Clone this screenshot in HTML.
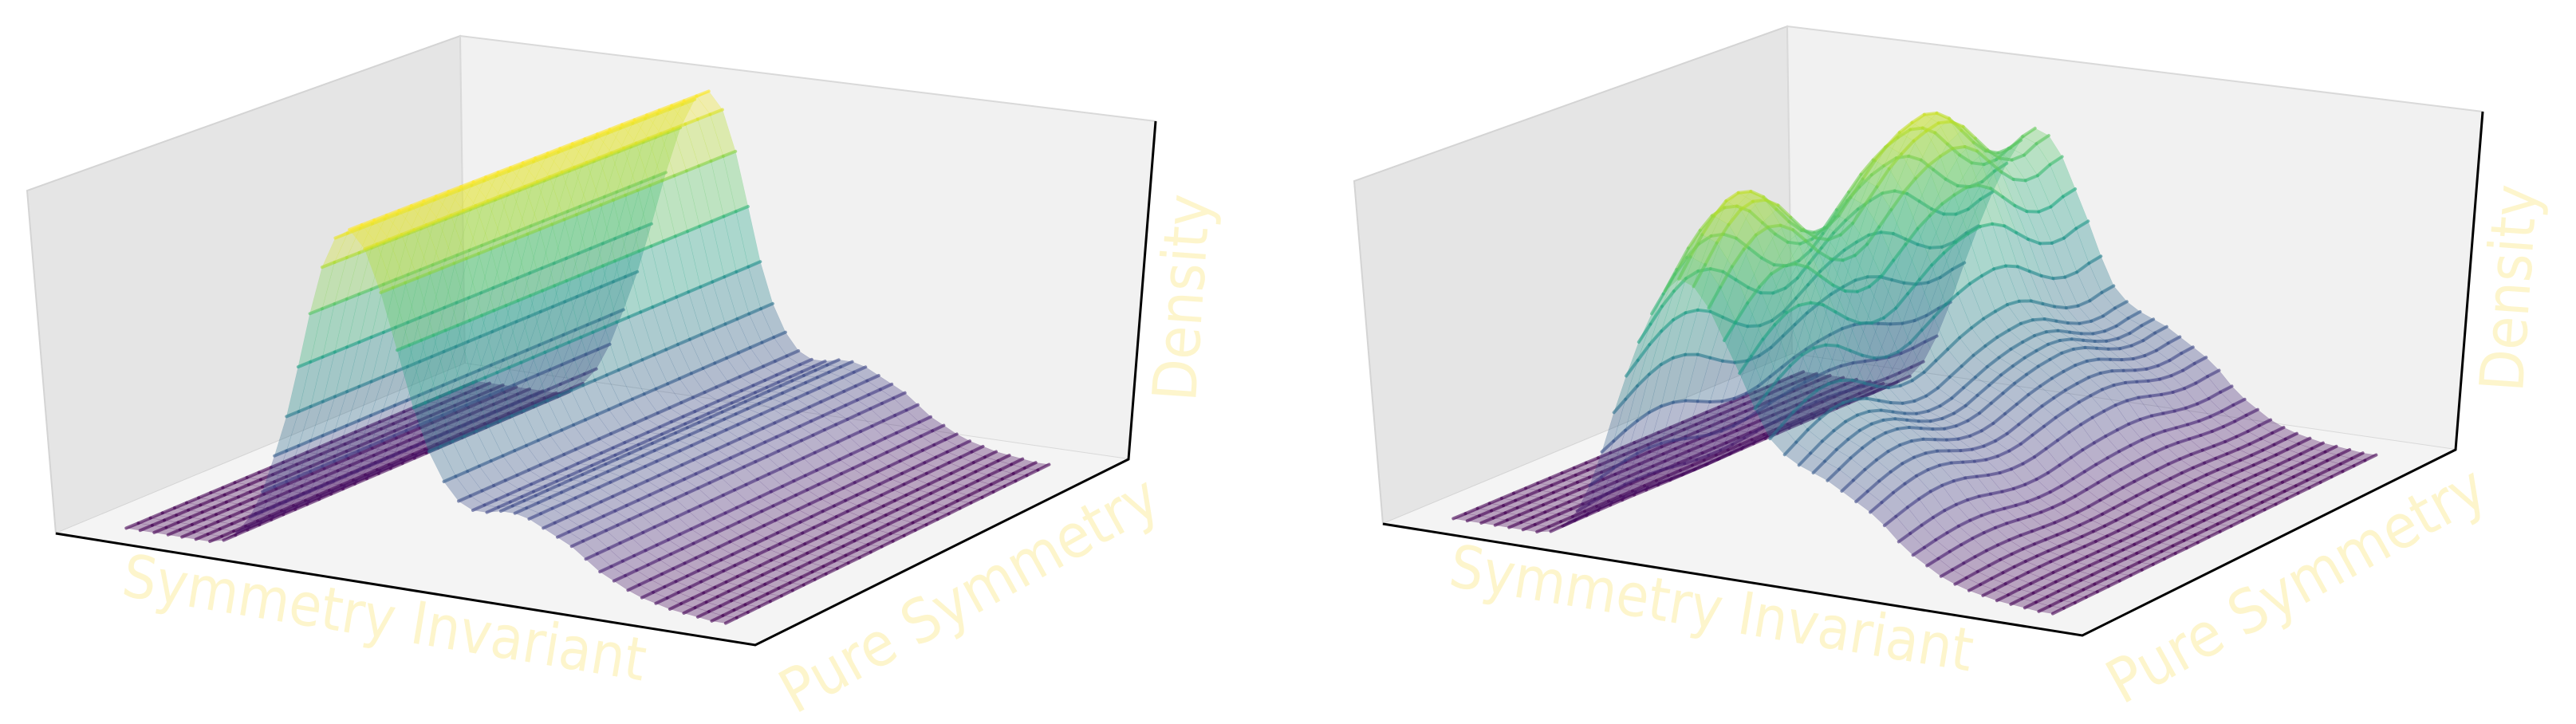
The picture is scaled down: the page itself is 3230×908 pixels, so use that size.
<!DOCTYPE html>
<html><head><meta charset="utf-8"><style>
html,body{margin:0;padding:0;background:#fff;width:3230px;height:908px;overflow:hidden}
svg{display:block}
text{font-family:"DejaVu Sans","Liberation Sans",sans-serif;fill:#fdf5cc}
</style></head><body>
<svg id="chart" width="3230" height="908" viewBox="0 0 3230 908" xmlns="http://www.w3.org/2000/svg"></svg>
<script>
// ---- data ----
const uStart = 0.06, uStep = 0.02;
const leftProfile = [0,0,0,0,0,0,0,0.01,0.04,0.09,0.17,0.28,0.40,0.55,0.71,0.85,0.94,0.97,0.92,0.80,0.64,0.48,0.36,0.28,0.23,0.21,0.21,0.22,0.22,0.21,0.19,0.17,0.15,0.12,0.09,0.07,0.05,0.035,0.025,0.015,0.01,0.005,0,0];
const rightProfile = [0,0,0,0,0,0,0,0.01,0.04,0.10,0.20,0.33,0.48,0.62,0.75,0.86,0.95,1.0,0.98,0.91,0.80,0.69,0.57,0.47,0.42,0.39,0.37,0.35,0.32,0.29,0.26,0.22,0.17,0.13,0.10,0.07,0.05,0.035,0.025,0.015,0.01,0.005,0,0];
const rightModulation = [0.80,0.85,0.90,0.94,0.97,0.98,0.97,0.94,0.89,0.84,0.80,0.78,0.78,0.80,0.84,0.88,0.92,0.95,0.975,0.99,1.0,0.99,0.96,0.91,0.86,0.82,0.80,0.80,0.82,0.83];
const leftModulation = [1,1,1,1,1,1,1,1,1,1,1,1,1,1,1,1,1,1,1,1,1,1,1,1,1,1,1,1,1,1];
const vStart = 0.07, vEnd = 0.93;

const NS = "http://www.w3.org/2000/svg";
const svg = document.getElementById('chart');
const stops = ["#440154","#482475","#414487","#355f8d","#2a788e","#21918c","#22a884","#44bf70","#7ad151","#bddf26","#fde725"];
function hex(h){return [parseInt(h.substr(1,2),16),parseInt(h.substr(3,2),16),parseInt(h.substr(5,2),16)];}
function viridis(t){t=Math.max(0,Math.min(1,t));const f=t*10,i=Math.min(9,Math.floor(f)),r=f-i;
 const a=hex(stops[i]),b=hex(stops[i+1]);return `rgb(${a.map((c,k)=>Math.round(c+(b[k]-c)*r)).join(',')})`;}

const F={A:[70,669],B:[947,809],C:[1415,576],D:[583,456]};
const Dz={A:[-36,-430],B:[4,-445],C:[34,-424],D:[-6,-411]};
function bil(P,u,v){return [0,1].map(k=>P.A[k]*(1-u)*(1-v)+P.B[k]*u*(1-v)+P.D[k]*(1-u)*v+P.C[k]*u*v);}

function el(tag,attrs,parent){const e=document.createElementNS(NS,tag);for(const k in attrs)e.setAttribute(k,attrs[k]);(parent||svg).appendChild(e);return e;}

function drawPanel(ox,oy,profile,mod,cscale,name){
 const g=el('g',{transform:`translate(${ox},${oy})`});
 
 
 const P=(u,v,z)=>{const f=bil(F,u,v),d=bil(Dz,u,v);return [f[0]+z*d[0],f[1]+z*d[1]];};
 const pts=a=>a.map(p=>p[0].toFixed(1)+','+p[1].toFixed(1)).join(' ');
 const A=P(0,0,0),B=P(1,0,0),C=P(1,1,0),D=P(0,1,0),A2=P(0,0,1),D2=P(0,1,1),C2=P(1,1,1);
 const lw=el('polygon',{points:pts([A,A2,D2,D]),fill:'#e5e5e5',stroke:'#d4d4d4','stroke-width':2},g);
 
 
 const bw=el('polygon',{points:pts([D,D2,C2,C]),fill:'#f1f1f1',stroke:'#d9d9d9','stroke-width':2},g);
 
 
 const fl=el('polygon',{points:pts([A,B,C,D]),fill:'#f4f4f4',stroke:'none'},g);
 
 
 const items=[];
 const nu=profile.length,nv=mod.length;
 const U=i=>uStart+i*uStep, V=j=>vStart+(vEnd-vStart)*j/(nv-1);
 const Z=(i,j)=>profile[i]*mod[j];
 for(let i=0;i<nu-1;i++)for(let j=0;j<nv-1;j++){
  const za=(Z(i,j)+Z(i+1,j)+Z(i,j+1)+Z(i+1,j+1))/4;
  const uc=(U(i)+U(i+1))/2,vc=(V(j)+V(j+1))/2;
  items.push({k:1.5*vc-uc,t:'f',p:[P(U(i),V(j),Z(i,j)),P(U(i+1),V(j),Z(i+1,j)),P(U(i+1),V(j+1),Z(i+1,j+1)),P(U(i),V(j+1),Z(i,j+1))],c:viridis(za/cscale)});
 }
 for(let i=0;i<nu;i++)for(let j=0;j<nv-1;j++){
  const za=(Z(i,j)+Z(i,j+1))/2,vc=(V(j)+V(j+1))/2;
  items.push({k:1.5*vc-U(i)-0.011,t:'l',p:[P(U(i),V(j),Z(i,j)),P(U(i),V(j+1),Z(i,j+1))],c:viridis(za/cscale)});
 }
 items.sort((a,b)=>b.k-a.k);
 const sg=el('g',{},g);
 
 
 for(const it of items){
  if(it.t==='f'){const e=el('polygon',{points:pts(it.p),fill:it.c,'fill-opacity':0.34,stroke:it.c,'stroke-opacity':0.34,'stroke-width':0.3},sg);
   
   }
  else{const e=el('polyline',{points:pts(it.p),fill:'none',stroke:it.c,'stroke-opacity':0.6,'stroke-width':4,'stroke-linecap':'round'},sg);
   
   }
 }
 const ax=el('polyline',{points:pts([A,B,C,C2]),fill:'none',stroke:'#000','stroke-width':3},g);
 
 
 const t1=el('text',{x:0,y:0,'font-size':74,'text-anchor':'middle',transform:'translate(478,800) rotate(9.3) scale(0.9,1)'},g);
 t1.textContent='Symmetry Invariant';
 
 
 const t2=el('text',{x:0,y:0,'font-size':76,'text-anchor':'middle',transform:'translate(1228,768) rotate(-29) scale(0.9,1)'},g);
 t2.textContent='Pure Symmetry';
 
 
 const t3=el('text',{x:0,y:0,'font-size':76,'text-anchor':'middle',transform:'translate(1508,375) rotate(-86) scale(0.9,1)'},g);
 t3.textContent='Density';
 
 
}
drawPanel(0,0,leftProfile,leftModulation,0.97,'left-panel');
drawPanel(1664,-12,rightProfile,rightModulation,1.08,'right-panel');
</script>
</body></html>
